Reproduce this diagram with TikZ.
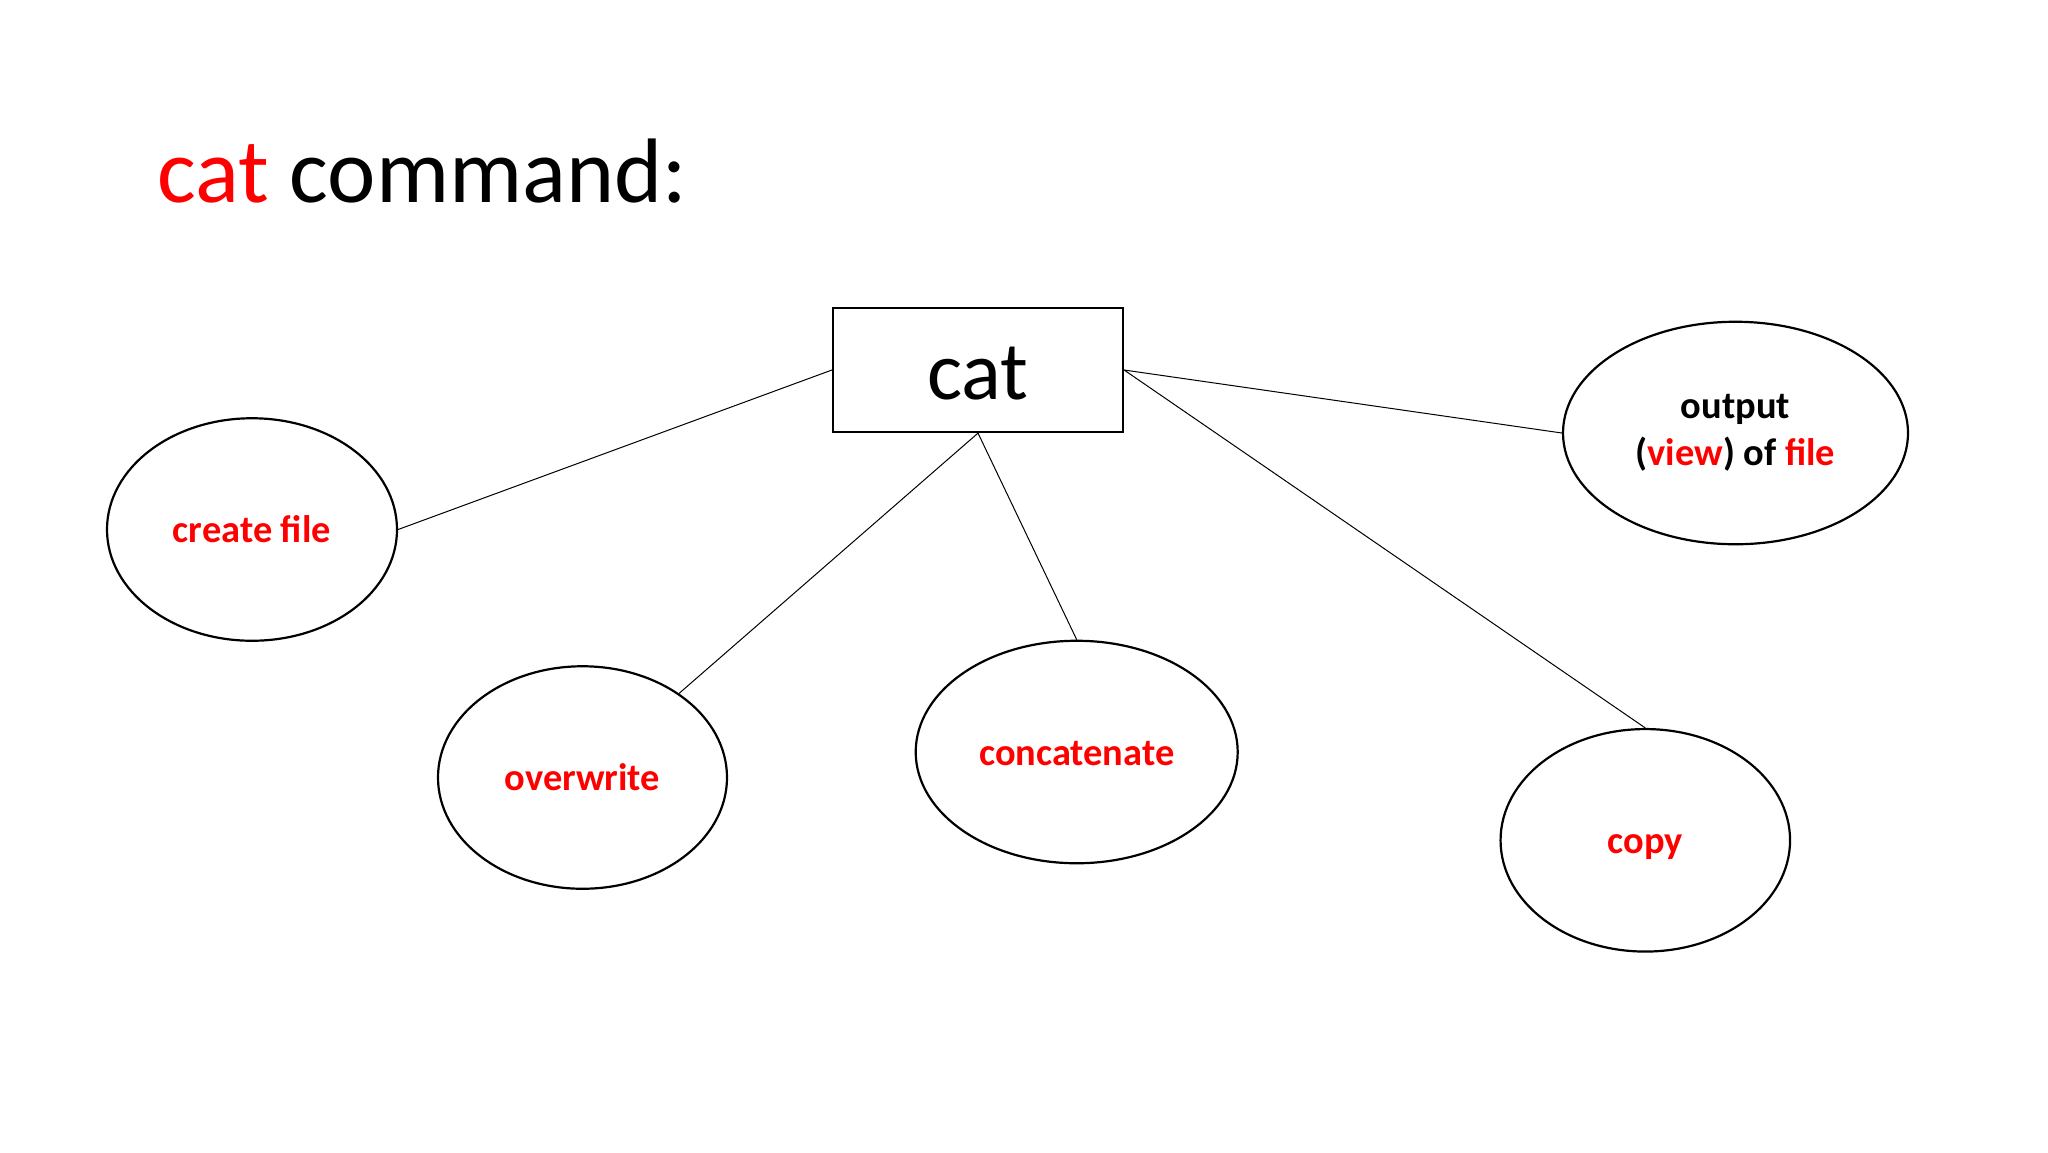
\documentclass[tikz,border=0pt]{standalone}
\usepackage{fontspec}
\setmainfont{Carlito}
\usetikzlibrary{shapes.geometric}
\definecolor{catred}{RGB}{255,0,0}
\begin{document}
\begin{tikzpicture}[x=0.5pt,y=-0.5pt,
  oval/.style={draw=black,line width=1.1pt,ellipse,inner sep=0pt,minimum height=222.5*0.5pt,align=center,font=\fontsize{19.2}{23}\selectfont\bfseries,text=catred,text height=13pt,text depth=0pt},
  hub/.style={draw=black,line width=1.1pt,rectangle,inner sep=0pt,minimum width=290*0.5pt,minimum height=124*0.5pt,font=\fontsize{41.5}{48}\selectfont,text height=29pt,text depth=0pt},
  link/.style={draw=black,line width=0.5pt}]
\useasboundingbox[fill=white] (0,0) rectangle (2048,1152);
\node[anchor=base west,inner sep=0pt,font=\fontsize{45.8}{54}\selectfont] (title) at (157,202) {\textcolor{catred}{cat} command:};
\node[hub] (cat) at (978,370) {cat};
\node[oval,minimum width=290*0.5pt] (create) at (252,529.5) {create file};
\node[oval,minimum width=289*0.5pt] (over) at (582.5,777.5) {overwrite};
\node[oval,minimum width=322*0.5pt] (concat) at (1076.7,752) {concatenate};
\node[oval,minimum width=289.5*0.5pt] (copy) at (1645.3,840.3) {copy};
\node[oval,minimum width=345*0.5pt,text=black,text height=,text depth=] (out) at (1735.5,433) {\raisebox{-1.5pt}{\begin{tabular}{@{}c@{}}output\\[0.5pt](\textcolor{catred}{view}) of \textcolor{catred}{file}\end{tabular}}};
\draw[link] (cat.west) -- (create.east);
\draw[link] (cat.south) -- (over);
\draw[link] (cat.south) -- (concat.north);
\draw[link] (cat.east) -- (copy.north);
\draw[link] (cat.east) -- (out.west);
\end{tikzpicture}
\end{document}
